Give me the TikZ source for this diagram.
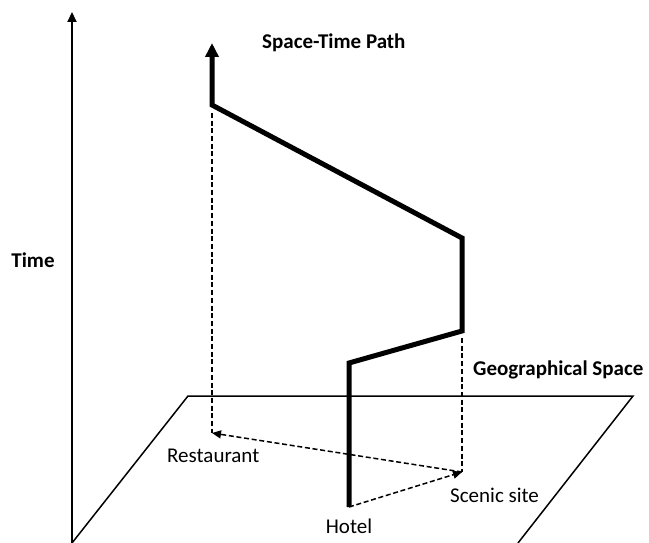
\documentclass[tikz,border=0pt]{standalone}
\usepackage{fontspec}
\setmainfont{Carlito}
\usetikzlibrary{arrows.meta}
\begin{document}
\begin{tikzpicture}[x=1pt,y=-1pt,
  lbl/.style={inner sep=0pt,font=\fontsize{21}{25}\selectfont},
  blbl/.style={lbl,font=\fontsize{21}{25}\selectfont\bfseries},
  axis/.style={line width=2pt,-{Triangle[length=10pt,width=9pt]}},
  plane/.style={line width=1.5pt},
  stpath/.style={line width=5pt,miter limit=10,-{Triangle[length=14pt,width=13pt]}},
  proj/.style={line width=1.5pt,dash pattern=on 5pt off 2.7pt},
  trip/.style={proj,-{Triangle[length=9pt,width=8pt]}}]
\useasboundingbox (0,0) rectangle (649,543);
% axis and plane
\coordinate (o) at (72,543);
\coordinate (ttop) at (72,12);
\coordinate (pl) at (188,396);
\coordinate (pr) at (633,396);
\coordinate (pb) at (518,543);
\draw[axis] (o) -- (ttop);
\draw[plane] (o) -- (pl) -- (pr) -- (pb);
% space-time path points
\coordinate (hb) at (349,507);
\coordinate (hc) at (349,363);
\coordinate (sb) at (462,331);
\coordinate (st) at (462,238);
\coordinate (rc) at (212,105);
\coordinate (top) at (212,43);
\coordinate (rcd) at (212,113);
\coordinate (sbd) at (462,338);
\coordinate (rg) at (212,433);
\coordinate (sg) at (462,472);
\draw[stpath] (hb) -- (hc) -- (sb) -- (st) -- (rc) -- (top);
\draw[proj] (rcd) -- (rg);
\draw[proj] (sbd) -- (sg);
\draw[trip] (sg) -- (rg);
\draw[trip] (hb) -- (sg);
% labels
\node[blbl,anchor=base west] (stp) at (262,49) {Space-Time Path};
\node[blbl,anchor=base] (time) at (33,267) {Time};
\node[blbl,anchor=base west] (geo) at (473,375) {Geographical Space};
\node[lbl,anchor=base west] (rest) at (167,462) {Restaurant};
\node[lbl,anchor=base west] (scen) at (450,502) {Scenic site};
\node[lbl,anchor=base] (hot) at (349,533) {Hotel};
\end{tikzpicture}
\end{document}
